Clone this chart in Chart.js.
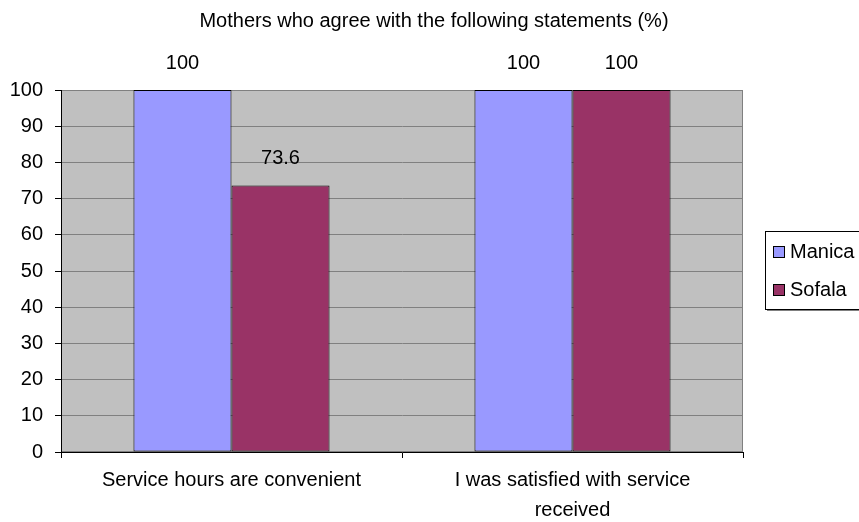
<!DOCTYPE html>
<html>
<head>
<meta charset="utf-8">
<script src="https://cdn.jsdelivr.net/npm/chart.js@4"></script>
<style>
  html, body { margin: 0; padding: 0; background: #fff; }
  #wrap { width: 859px; height: 522px; }
</style>
</head>
<body>
<div id="wrap"><canvas id="barCanvas" width="859" height="522"></canvas></div>
<script>
const categories = [
  'Service hours are convenient',
  ['I was satisfied with service', 'received']
];
const manicaValues = [100, 100];
const sofalaValues = [73.6, 100];
const seriesNames = ['Manica', 'Sofala'];
const yTicks = [0, 10, 20, 30, 40, 50, 60, 70, 80, 90, 100];
const chartTitle = 'Mothers who agree with the following statements (%)';

const FONT = '"Liberation Sans", Arial, sans-serif';

// gray plot background + frame, and the title centred on the page
const plotBackground = {
  id: 'plotBackground',
  beforeDraw: (chart) => {
    const a = chart.chartArea;
    const ctx = chart.ctx;
    ctx.save();
    ctx.fillStyle = '#C0C0C0';
    ctx.fillRect(a.left, a.top, a.right - a.left, a.bottom - a.top);
    ctx.strokeStyle = '#808080';
    ctx.lineWidth = 1;
    ctx.strokeRect(a.left + 0.5, a.top + 0.5, a.right - a.left - 1, a.bottom - a.top - 1);
    ctx.font = '20px ' + FONT;
    ctx.fillStyle = '#000';
    ctx.textAlign = 'center';
    ctx.textBaseline = 'middle';
    ctx.fillText(chartTitle, 434, 21);
    ctx.restore();
  }
};

// value labels above each bar
const valueLabels = {
  id: 'valueLabels',
  afterDatasetsDraw: (chart) => {
    const ctx = chart.ctx;
    ctx.save();
    ctx.font = '20px ' + FONT;
    ctx.fillStyle = '#000';
    ctx.textAlign = 'center';
    ctx.textBaseline = 'middle';
    chart.data.datasets.forEach((ds, i) => {
      chart.getDatasetMeta(i).data.forEach((bar, j) => {
        ctx.fillText(String(ds.data[j]), bar.x, bar.y - 27);
      });
    });
    ctx.restore();
  }
};

// boxed legend at the right, like the original
const boxLegend = {
  id: 'boxLegend',
  afterDraw: (chart) => {
    const ctx = chart.ctx;
    const left = 765, top = 231, bottom = 309;
    ctx.save();
    ctx.fillStyle = '#808080';
    ctx.fillRect(left + 2, bottom, 200, 2);
    ctx.strokeStyle = '#000';
    ctx.lineWidth = 1;
    ctx.fillStyle = '#fff';
    ctx.fillRect(left, top, 200, bottom - top);
    ctx.strokeRect(left + 0.5, top + 0.5, 200, bottom - top);
    ctx.font = '20px ' + FONT;
    ctx.textBaseline = 'middle';
    chart.data.datasets.forEach((ds, i) => {
      const cy = 252 + i * 38;
      ctx.fillStyle = ds.backgroundColor;
      ctx.fillRect(773, cy - 6, 12, 12);
      ctx.strokeRect(773.5, cy - 5.5, 11, 11);
      ctx.fillStyle = '#000';
      ctx.fillText(ds.label, 790, cy);
    });
    ctx.restore();
  }
};

const ctx = document.getElementById('barCanvas').getContext('2d');
const chart = new Chart(ctx, {
  type: 'bar',
  data: {
    labels: categories,
    datasets: [{
      label: seriesNames[0],
      data: manicaValues,
      backgroundColor: '#9999FF',
      borderColor: '#000',
      borderWidth: 1,
      borderSkipped: false
    }, {
      label: seriesNames[1],
      data: sofalaValues,
      backgroundColor: '#993366',
      borderColor: '#000',
      borderWidth: 1,
      borderSkipped: false
    }]
  },
  options: {
    responsive: false,
    animation: false,
    layout: { padding: { left: 0, right: 116, top: 90, bottom: 0 } },
    categoryPercentage: 0.575,
    barPercentage: 1.0,
    scales: {
      x: {
        grid: { drawOnChartArea: false, tickLength: 6, tickColor: '#000' },
        border: { color: '#000', width: 1 },
        ticks: { color: '#000', font: { family: FONT, size: 20, lineHeight: 1.5 }, padding: 7, maxRotation: 0 },
        afterFit: (s) => { s.height = 70; }
      },
      y: {
        min: 0,
        max: 100,
        afterBuildTicks: (s) => { s.ticks = yTicks.map(v => ({ value: v })); },
        grid: { color: '#808080', tickLength: 6, tickColor: '#000' },
        border: { color: '#000', width: 1 },
        ticks: { color: '#000', font: { family: FONT, size: 20 }, padding: 12 },
        afterFit: (s) => { s.width = 61; }
      }
    },
    plugins: {
      legend: { display: false },
      tooltip: { enabled: false },
      title: { display: false }
    }
  },
  plugins: [plotBackground, valueLabels, boxLegend]
});
</script>
</body>
</html>
